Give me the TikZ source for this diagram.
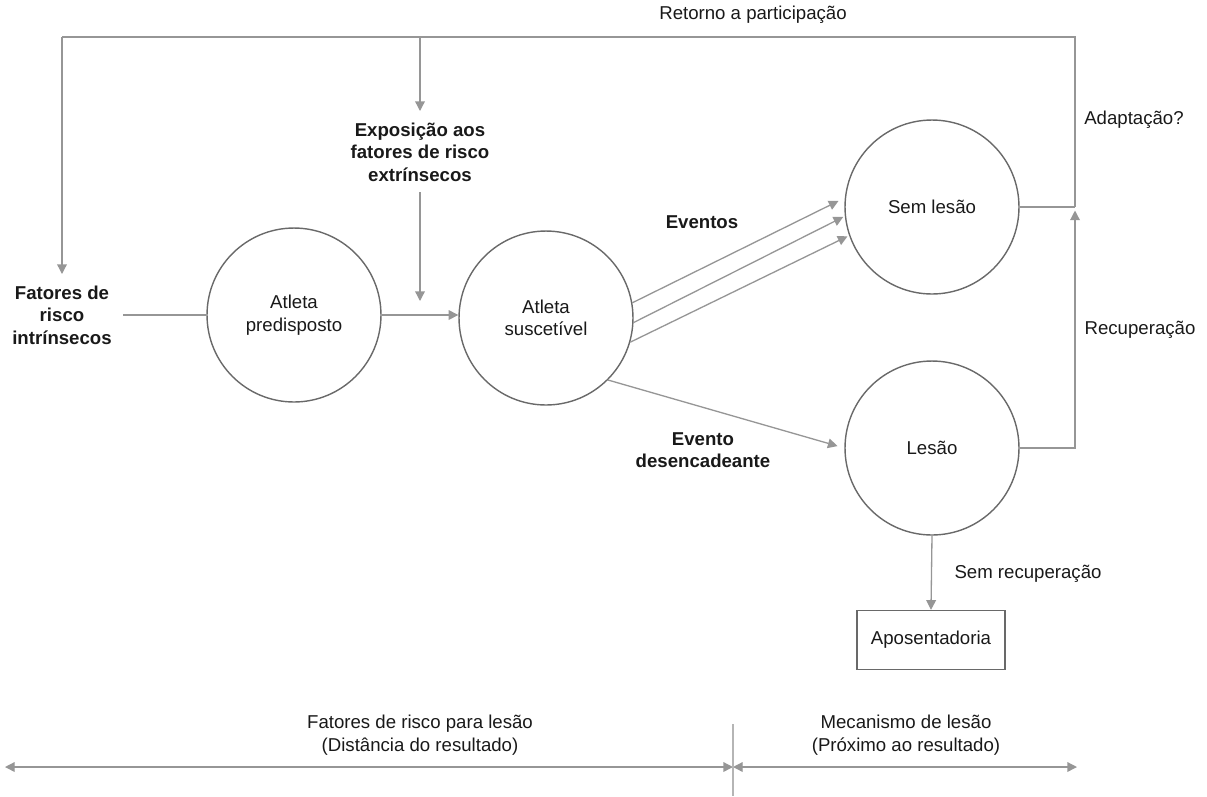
\documentclass[tikz,border=0pt]{standalone}
\usepackage{fontspec}
\setmainfont{Liberation Sans}
\usetikzlibrary{arrows.meta}
\definecolor{ln}{RGB}{150,150,150}
\definecolor{cl}{RGB}{105,105,105}
\definecolor{tx}{RGB}{25,25,25}
\begin{document}
\begin{tikzpicture}[x=0.02cm,y=-0.02cm,
  every node/.style={text=tx,font=\fontsize{10.6pt}{12.8pt}\selectfont},
  state/.style={circle,draw=cl,line width=0.8pt,minimum size=3.48cm,align=center,inner sep=0pt},
  bold/.style={font=\fontsize{10.6pt}{12.8pt}\selectfont\bfseries,align=center},
  conn/.style={draw=ln,line width=0.75pt},
  arr/.style={conn,-{Triangle[length=5.5pt,width=5.5pt]}},
  darr/.style={conn,{Triangle[length=5.5pt,width=5.5pt]}-{Triangle[length=5.5pt,width=5.5pt]}}]
\useasboundingbox (0,0) rectangle (1207,796);
% circles
\node[state] (p) at (294,315) {Atleta\\predisposto};
\node[state] (s) at (546,318) {Atleta\\suscetível};
\node[state] (n) at (932,207) {Sem lesão};
\node[state] (l) at (932,448) {Lesão};
\node[draw=cl,line width=0.8pt,minimum width=2.96cm,minimum height=1.18cm] (a) at (931,640) {Aposentadoria};
% texts
\node[bold] (fi) at (62,315) {Fatores de\\risco\\intrínsecos};
\node[bold] (ex) at (420,152) {Exposição aos\\fatores de risco\\extrínsecos};
\node[bold] (ev) at (702,222) {Eventos};
\node[bold] (ed) at (703,450) {Evento\\desencadeante};
\node (rp) at (753,15) {Retorno a participação};
\node (ad) at (1134,120) {Adaptação?};
\node (rc) at (1140,330) {Recuperação};
\node (sr) at (1028,574) {Sem recuperação};
\node[align=center] (fr) at (420,735) {Fatores de risco para lesão\\(Distância do resultado)};
\node[align=center] (mc) at (906,735) {Mecanismo de lesão\\(Próximo ao resultado)};
% coordinates
\coordinate (tl) at (62,37);
\coordinate (tm) at (420,37);
\coordinate (tr) at (1075,37);
\coordinate (rn) at (1075,207);
\coordinate (rl) at (1075,448);
\coordinate (fiend) at (62,274);
\coordinate (exin) at (420,111);
\coordinate (exout) at (420,192);
\coordinate (extip) at (420,301);
\coordinate (fis) at (123,315);
\coordinate (b1) at (5,767);
\coordinate (b2) at (733,767);
\coordinate (b3) at (1077,767);
\coordinate (vt) at (733,724);
\coordinate (vb) at (733,796);
% connectors
\draw[conn] (fis) -- (p.west);
\draw[arr] (p.east) -- (p.east -| s.west);
\draw[conn] (rn) -- (tr) -- (tl);
\draw[arr] (tl) -- (fiend);
\draw[arr] (tm) -- (exin);
\draw[arr] (exout) -- (extip);
\draw[conn] (n.east) -- (rn);
\draw[arr,shorten >=2pt] (l.east) -- (rl) -- (rn);
\draw[arr,shorten >=4pt] (s.10) -- (n.174);
\draw[arr,shorten >=1pt] (s.-3) -- (n.186);
\draw[arr,shorten >=1pt] (s.-16) -- (n.199);
\draw[arr,shorten >=4pt] (s.-45) -- (l.west);
\draw[arr] (l.south) -- (a.north);
\draw[darr] (b1) -- (b2);
\draw[darr] (b2) -- (b3);
\draw[draw=ln!70,line width=0.75pt] (vt) -- (vb);
\end{tikzpicture}
\end{document}
